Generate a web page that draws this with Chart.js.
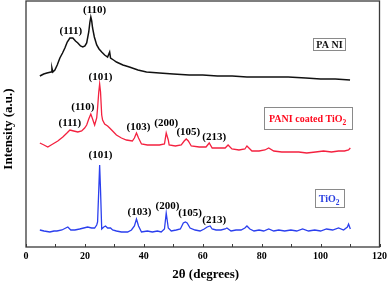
<!DOCTYPE html>
<html>
<head>
<meta charset="utf-8">
<script src="https://cdn.jsdelivr.net/npm/chart.js@4.4.1/dist/chart.umd.min.js"></script>
<style>
  html, body { margin: 0; padding: 0; background: #fff; }
  #wrap { width: 390px; height: 283px; position: relative; }
</style>
</head>
<body>
<div id="wrap"><canvas id="xrd"></canvas></div>
<script>
/* XRD patterns: PANI, PANI coated TiO2, TiO2 (a.u.) */

// PANI (black)
const paniX = [4.7, 6.0, 7.1, 8.5, 8.8, 9.1, 9.8, 10.6, 11.5, 12.4, 13.2, 14.0, 14.9, 15.9, 16.8, 17.6, 18.5, 19.3, 20.0, 20.6,
  21.3, 21.7, 22.0, 22.3, 22.6, 23.2, 24.0, 24.8, 25.7, 26.7, 27.7, 28.4, 28.7, 29.7, 30.7, 32.9, 35.1, 38.0, 40.9, 45.3,
  50, 55.4, 60, 65, 70, 75, 80, 85, 89, 95, 100, 105, 110];
const paniY = [171, 173, 174, 175, 179, 175, 177, 182, 189, 194, 199, 205, 209, 209, 206, 204, 201, 200, 201, 204,
  215, 225, 230, 226, 219, 210, 202, 198, 195, 192, 190, 195, 189, 187, 185, 182, 180, 177, 175, 174,
  173, 172, 172, 171, 171, 170, 170, 170, 170, 169, 168, 168, 167];

// PANI coated TiO2 (red)
const coatX = [4.7, 6.1, 7.4, 9.1, 10.8, 12.5, 13.9, 14.9, 16.2, 17.6, 18.9, 19.9, 20.6, 21.3, 22.0, 22.6, 23.3, 24.0, 24.3, 24.7,
  25.0, 25.3, 25.7, 26.0, 26.7, 27.7, 28.4, 29.4, 30.7, 32.4, 34.1, 36.1, 36.8, 37.5, 38.2, 39.2, 41.2, 43.6, 45.3, 47.0,
  47.6, 48.3, 48.6, 50.7, 52.7, 53.7, 54.4, 55.1, 56.1, 58.8, 61.1, 62.2, 63.2, 65.5, 67.6, 68.6, 69.9, 72.3, 74.3, 75.0,
  76.7, 79.1, 81.1, 82.4, 84.1, 86.8, 89.9, 92.6, 95.3, 98.3, 101.0, 103.7, 106.1, 108.1, 109.5, 110.1];
const coatY = [104, 102, 100, 103, 106, 110, 114, 117, 116, 115, 116, 119, 122, 128, 133, 128, 122, 129, 139, 155,
  163, 155, 132, 127, 123, 121, 119, 116, 112, 109, 107, 106, 109, 114, 109, 103, 102, 102, 102, 103,
  114, 107, 102, 101, 102, 106, 108, 106, 101, 100, 100, 104, 99, 99, 99, 102, 98, 97, 98, 101,
  96, 96, 97, 99, 96, 95, 95, 95, 94, 95, 96, 95, 96, 96, 97, 99];

// TiO2 (blue)
const tioX = [4.7, 6.1, 8.1, 9.5, 10.5, 12.2, 13.5, 14.2, 15.2, 16.6, 18.2, 19.6, 20.9, 22.3, 23.3, 24.0, 24.3, 24.7, 25.0, 25.3,
  25.7, 26.4, 27.0, 27.7, 28.7, 29.4, 30.7, 32.4, 34.5, 35.8, 36.8, 37.5, 38.2, 39.2, 41.2, 42.9, 44.6, 45.9, 47.0, 47.6,
  48.3, 49.3, 51.0, 52.4, 53.4, 54.1, 54.7, 55.7, 57.4, 59.1, 60.5, 61.5, 62.5, 63.2, 64.5, 66.2, 67.6, 68.2, 69.6, 71.3,
  73.0, 74.3, 75.0, 76.0, 77.4, 79.1, 80.7, 82.4, 84.1, 85.8, 87.8, 89.9, 91.9, 93.9, 95.9, 98.0, 100.0, 102.0, 104.1, 106.1,
  107.8, 109.1, 109.5, 110.1];
const tioY = [17, 16, 15, 16, 16, 17, 19, 20, 17, 17, 18, 19, 20, 19, 19, 22, 25, 57, 82, 57,
  18, 20, 21, 19, 19, 17, 16, 15, 15, 17, 21, 28, 21, 15, 16, 15, 16, 15, 18, 34,
  19, 16, 17, 18, 24, 25, 24, 19, 17, 16, 18, 20, 21, 18, 17, 17, 18, 19, 16, 17,
  17, 19, 21, 18, 16, 17, 16, 18, 16, 17, 16, 17, 16, 18, 16, 17, 16, 18, 17, 19,
  17, 20, 23, 18];

// x axis ticks
const xTicks = [0, 20, 40, 60, 80, 100, 120];

// peak labels (hkl), anchored in data space
const paniPeaks = [
  { t: '(111)', x: 15.2, y: 216 },
  { t: '(110)', x: 23.3, y: 237 }
];
const coatPeaks = [
  { t: '(111)', x: 14.9, y: 124 },
  { t: '(110)', x: 19.3, y: 140 },
  { t: '(101)', x: 25.3, y: 170 },
  { t: '(103)', x: 38.2, y: 120 },
  { t: '(200)', x: 47.6, y: 124 },
  { t: '(105)', x: 55.1, y: 115 },
  { t: '(213)', x: 63.9, y: 110 }
];
const tioPeaks = [
  { t: '(101)', x: 25.3, y: 92 },
  { t: '(103)', x: 38.5, y: 35 },
  { t: '(200)', x: 48.0, y: 41 },
  { t: '(105)', x: 55.7, y: 34 },
  { t: '(213)', x: 63.9, y: 27 }
];

const RED = '#f4213f';
const BLUE = '#2b3fee';
const SERIF = '"Liberation Serif", "Times New Roman", serif';

// boxed series names
const nameBoxes = [
  { t: 'PA NI', sub: '', color: '#111', x: 103.0, y: 203, w: 32, h: 12 },
  { t: 'PANI coated TiO', sub: '2', color: '#ff0a1e', x: 95.6, y: 129, w: 88, h: 22 },
  { t: 'TiO', sub: '2', color: '#2a3fe0', x: 102.9, y: 49, w: 29, h: 18 }
];

function toPoints(xs, ys) {
  return xs.map((v, i) => ({ x: v, y: ys[i] }));
}

const overlay = {
  id: 'overlay',
  afterDraw(chart) {
    const { ctx, chartArea: a, scales: { x, y } } = chart;
    ctx.save();

    // frame
    ctx.strokeStyle = '#3a3a3a';
    ctx.lineWidth = 1.3;
    ctx.strokeRect(a.left, a.top, a.right - a.left, a.bottom - a.top);

    // inward ticks on bottom axis
    ctx.lineWidth = 1;
    for (let v = 0; v <= 120; v += 10) {
      const px = Math.round(x.getPixelForValue(v)) + 0.5;
      ctx.beginPath();
      ctx.moveTo(px, a.bottom);
      ctx.lineTo(px, a.bottom - 3);
      ctx.stroke();
    }

    // peak labels
    ctx.font = 'bold 11px ' + SERIF;
    ctx.fillStyle = '#000';
    ctx.textAlign = 'center';
    ctx.textBaseline = 'middle';
    [paniPeaks, coatPeaks, tioPeaks].forEach(list => {
      list.forEach(p => ctx.fillText(p.t, x.getPixelForValue(p.x), y.getPixelForValue(p.y)));
    });

    // name boxes
    nameBoxes.forEach(b => {
      const cx = x.getPixelForValue(b.x), cy = y.getPixelForValue(b.y);
      ctx.fillStyle = '#fff';
      ctx.fillRect(cx - b.w / 2, cy - b.h / 2, b.w, b.h);
      ctx.strokeStyle = '#8a8a8a';
      ctx.lineWidth = 1;
      ctx.strokeRect(Math.round(cx - b.w / 2) + 0.5, Math.round(cy - b.h / 2) + 0.5, b.w, b.h);
      ctx.font = 'bold 10px ' + SERIF;
      const w1 = ctx.measureText(b.t).width;
      ctx.font = 'bold 7.5px ' + SERIF;
      const w2 = b.sub ? ctx.measureText(b.sub).width : 0;
      const left = cx - (w1 + w2) / 2;
      ctx.fillStyle = b.color;
      ctx.textAlign = 'left';
      ctx.textBaseline = 'alphabetic';
      ctx.font = 'bold 10px ' + SERIF;
      ctx.fillText(b.t, left, cy + 3.5);
      if (b.sub) {
        ctx.font = 'bold 7.5px ' + SERIF;
        ctx.fillText(b.sub, left + w1, cy + 6.5);
      }
    });

    // axis titles
    ctx.fillStyle = '#000';
    ctx.textAlign = 'center';
    ctx.textBaseline = 'middle';
    ctx.font = 'bold 13px ' + SERIF;
    ctx.fillText('2θ (degrees)', (a.left + a.right) / 2 + 3, 275);
    ctx.save();
    ctx.translate(9, 129);
    ctx.rotate(-Math.PI / 2);
    ctx.font = 'bold 13px ' + SERIF;
    ctx.fillText('Intensity (a.u.)', 0, 0);
    ctx.restore();

    ctx.restore();
  }
};

const lineStyle = { pointRadius: 0, tension: 0, fill: false };

new Chart(document.getElementById('xrd'), {
  type: 'line',
  data: {
    datasets: [
      { label: 'PANI', data: toPoints(paniX, paniY), borderColor: '#111', borderWidth: 1.5, ...lineStyle },
      { label: 'PANI coated TiO2', data: toPoints(coatX, coatY), borderColor: RED, borderWidth: 1.3, ...lineStyle },
      { label: 'TiO2', data: toPoints(tioX, tioY), borderColor: BLUE, borderWidth: 1.3, ...lineStyle }
    ]
  },
  options: {
    responsive: true,
    maintainAspectRatio: false,
    animation: false,
    layout: { padding: { left: 26, right: 9, top: 1, bottom: 0 } },
    plugins: { legend: { display: false }, tooltip: { enabled: false } },
    scales: {
      x: {
        type: 'linear', min: 0, max: 120,
        afterBuildTicks: s => { s.ticks = xTicks.map(v => ({ value: v })); },
        afterFit: s => { s.height = 36; },
        grid: { display: false, drawTicks: false },
        border: { display: false },
        ticks: { color: '#000', padding: 3, maxRotation: 0, font: { family: SERIF, size: 10, weight: 'bold' } }
      },
      y: {
        type: 'linear', min: 0, max: 246,
        display: false
      }
    }
  },
  plugins: [overlay]
});
</script>
</body>
</html>
